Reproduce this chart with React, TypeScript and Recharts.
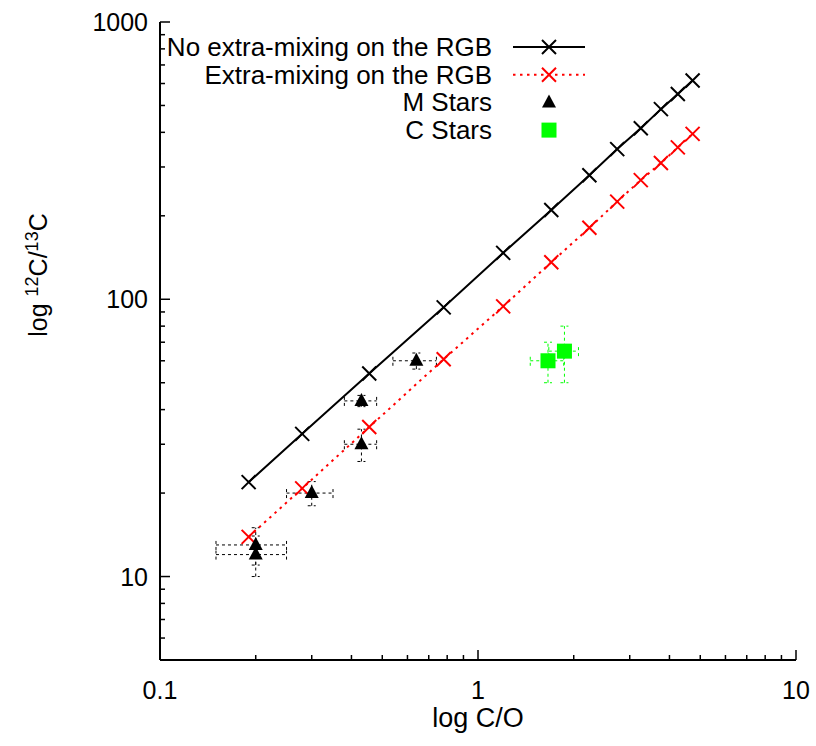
import { ScatterChart, Scatter, XAxis, YAxis, ErrorBar, Legend } from "recharts"

// model tracks: C/O and 12C/13C along the RGB
const modelCO = [0.19, 0.28, 0.455, 0.78, 1.2, 1.7, 2.24, 2.74, 3.25, 3.76, 4.25, 4.73]
const noMixingRatio = [21.9, 32.7, 54, 93.5, 147, 210, 280, 348, 414, 485, 550, 615]
const extraMixingRatio = [13.9, 20.8, 34.6, 60.8, 94.3, 136, 181, 225, 269, 310, 353, 395]

// observed M stars
const mStarCO = [0.2, 0.2, 0.3, 0.43, 0.43, 0.64]
const mStarRatio = [13, 12, 20, 43, 30, 60]
const mStarCOErr = [0.05, 0.05, 0.05, 0.05, 0.05, 0.1]
const mStarRatioErr = [2, 2, 2, 2, 4, 4]

// observed C stars
const cStarCO = [1.66, 1.87]
const cStarRatio = [60, 65]
const cStarCOErr = [0.2, 0.2]
const cStarRatioErr = [10, 15]

const xTicks = [0.1, 0.2, 0.3, 0.4, 0.5, 0.6, 0.7, 0.8, 0.9, 1, 2, 3, 4, 5, 6, 7, 8, 9, 10]
const yTicks = [5, 6, 7, 8, 9, 10, 20, 30, 40, 50, 60, 70, 80, 90, 100, 200, 300, 400, 500, 600, 700, 800, 900, 1000]

const FONT = "'Liberation Sans', Arial, Helvetica, sans-serif"
const RED = "#ff0000"
const GREEN = "#00ff00"

const noMixing = modelCO.map((x, i) => ({ x, y: noMixingRatio[i] }))
const extraMixing = modelCO.map((x, i) => ({ x, y: extraMixingRatio[i] }))
const mStars = mStarCO.map((x, i) => ({ x, y: mStarRatio[i], ex: mStarCOErr[i], ey: mStarRatioErr[i] }))
const cStars = cStarCO.map((x, i) => ({ x, y: cStarRatio[i], ex: cStarCOErr[i], ey: cStarRatioErr[i] }))

const isMajor = (v: number) => Math.abs(Math.log10(v) - Math.round(Math.log10(v))) < 1e-6

const BottomTick = ({ x, y, payload }: any) => {
  const major = isMajor(payload.value)
  return (
    <g>
      <line x1={x} y1={y} x2={x} y2={y - (major ? 10 : 5)} stroke="#000" strokeWidth={1.5} />
      {major && (
        <text x={x} y={y + 39} textAnchor="middle" fontSize={25} fontFamily={FONT} fill="#000">
          {payload.value}
        </text>
      )}
    </g>
  )
}

const TopTick = ({ x, y, payload }: any) => {
  const major = isMajor(payload.value)
  return <line x1={x} y1={y} x2={x} y2={y + (major ? 10 : 5)} stroke="#000" strokeWidth={1.5} />
}

const LeftTick = ({ x, y, payload }: any) => {
  const major = isMajor(payload.value)
  return (
    <g>
      <line x1={x} y1={y} x2={x + (major ? 10 : 5)} y2={y} stroke="#000" strokeWidth={1.5} />
      {major && (
        <text x={x - 12} y={y + 9} textAnchor="end" fontSize={25} fontFamily={FONT} fill="#000">
          {payload.value}
        </text>
      )}
    </g>
  )
}

const RightTick = ({ x, y, payload }: any) => {
  const major = isMajor(payload.value)
  return <line x1={x} y1={y} x2={x - (major ? 10 : 5)} y2={y} stroke="#000" strokeWidth={1.5} />
}

const Cross = ({ cx, cy, color }: any) => (
  <path d={`M${cx - 7},${cy - 7}L${cx + 7},${cy + 7}M${cx - 7},${cy + 7}L${cx + 7},${cy - 7}`} stroke={color} strokeWidth={2} fill="none" />
)

const Triangle = ({ cx, cy }: any) => (
  <polygon points={`${cx},${cy - 8} ${cx + 7},${cy + 5} ${cx - 7},${cy + 5}`} fill="#000" />
)

const Square = ({ cx, cy }: any) => <rect x={cx - 7.5} y={cy - 7.5} width={15} height={15} fill={GREEN} />

const YLabel = () => (
  <text transform="translate(47,275) rotate(-90)" textAnchor="middle" fontSize={25} fontFamily={FONT} fill="#000">
    log <tspan fontSize={18} dy={-9}>12</tspan>
    <tspan dy={9}>C/</tspan>
    <tspan fontSize={18} dy={-9}>13</tspan>
    <tspan dy={9}>C</tspan>
  </text>
)

const XLabel = ({ viewBox }: any) => (
  <text x={viewBox.x + viewBox.width / 2} y={727} textAnchor="middle" fontSize={27} fontFamily={FONT} fill="#000">
    log C/O
  </text>
)

const legendRows = [
  { label: "No extra-mixing on the RGB", kind: "solid" },
  { label: "Extra-mixing on the RGB", kind: "dotted" },
  { label: "M Stars", kind: "triangle" },
  { label: "C Stars", kind: "square" },
]

const KeyBox = () => (
  <svg width={816} height={150} style={{ display: "block" }}>
    {legendRows.map((row, i) => {
      const y = 47 + i * 27.7
      return (
        <g key={row.label}>
          <text x={492} y={y + 9} textAnchor="end" fontSize={26} fontFamily={FONT} fill="#000">
            {row.label}
          </text>
          {row.kind === "solid" && (
            <>
              <line x1={513} x2={585} y1={y} y2={y} stroke="#000" strokeWidth={2} />
              <Cross cx={549} cy={y} color="#000" />
            </>
          )}
          {row.kind === "dotted" && (
            <>
              <line x1={513} x2={585} y1={y} y2={y} stroke={RED} strokeWidth={2} strokeDasharray="2.5 4.5" />
              <Cross cx={549} cy={y} color={RED} />
            </>
          )}
          {row.kind === "triangle" && <Triangle cx={549} cy={y} />}
          {row.kind === "square" && <Square cx={549} cy={y} />}
        </g>
      )
    })}
  </svg>
)

export default function App() {
  return (
    <div style={{ position: "absolute", left: 0, top: 0, width: 816, height: 746, background: "#fff" }}>
      <ScatterChart width={816} height={746} margin={{ top: 22, right: 20, left: 0, bottom: 0 }}>
        <XAxis
          dataKey="x"
          type="number"
          scale="log"
          domain={[0.1, 10]}
          allowDataOverflow
          ticks={xTicks}
          interval={0}
          height={86}
          tickSize={0}
          tickMargin={0}
          tick={<BottomTick />}
          axisLine={{ stroke: "#000", strokeWidth: 2 }}
          label={<XLabel />}
        />
        <XAxis
          xAxisId="top"
          orientation="top"
          type="number"
          scale="log"
          domain={[0.1, 10]}
          allowDataOverflow
          ticks={xTicks}
          interval={0}
          height={0}
          tickSize={0}
          tickMargin={0}
          tick={<TopTick />}
          axisLine={{ stroke: "#000", strokeWidth: 2 }}
        />
        <YAxis
          dataKey="y"
          type="number"
          scale="log"
          domain={[5, 1000]}
          allowDataOverflow
          ticks={yTicks}
          interval={0}
          width={160}
          tickSize={0}
          tickMargin={0}
          tick={<LeftTick />}
          axisLine={{ stroke: "#000", strokeWidth: 2 }}
          label={<YLabel />}
        />
        <YAxis
          yAxisId="right"
          orientation="right"
          type="number"
          scale="log"
          domain={[5, 1000]}
          allowDataOverflow
          ticks={yTicks}
          interval={0}
          width={0}
          tickSize={0}
          tickMargin={0}
          tick={<RightTick />}
          axisLine={{ stroke: "#000", strokeWidth: 2 }}
        />
        <Legend
          layout="horizontal"
          verticalAlign="middle"
          align="center"
          wrapperStyle={{ left: 0, top: 0, width: 816, height: 150 }}
          content={() => <KeyBox />}
        />
        <Scatter
          name="No extra-mixing on the RGB"
          data={noMixing}
          line={{ stroke: "#000", strokeWidth: 2 }}
          lineType="joint"
          shape={(p: any) => <Cross {...p} color="#000" />}
          isAnimationActive={false}
        />
        <Scatter
          name="Extra-mixing on the RGB"
          data={extraMixing}
          line={{ stroke: RED, strokeWidth: 2, strokeDasharray: "2.5 4.5" }}
          lineType="joint"
          shape={(p: any) => <Cross {...p} color={RED} />}
          isAnimationActive={false}
        />
        <Scatter name="M Stars" data={mStars} shape={<Triangle />} isAnimationActive={false}>
          <ErrorBar dataKey="ex" direction="x" width={5} stroke="#000" strokeWidth={1} strokeDasharray="3 3" />
          <ErrorBar dataKey="ey" direction="y" width={4} stroke="#000" strokeWidth={1} strokeDasharray="3 3" />
        </Scatter>
        <Scatter name="C Stars" data={cStars} shape={<Square />} isAnimationActive={false}>
          <ErrorBar dataKey="ex" direction="x" width={5} stroke={GREEN} strokeWidth={1} strokeDasharray="3 3" />
          <ErrorBar dataKey="ey" direction="y" width={4} stroke={GREEN} strokeWidth={1} strokeDasharray="3 3" />
        </Scatter>
      </ScatterChart>
    </div>
  )
}
